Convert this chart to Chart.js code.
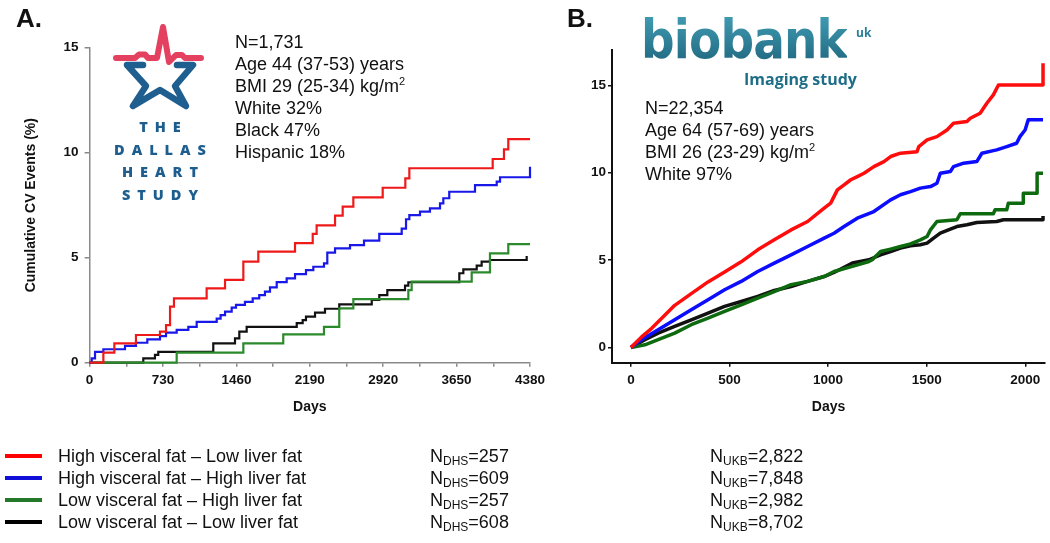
<!DOCTYPE html>
<html><head><meta charset="utf-8">
<script src="https://cdn.jsdelivr.net/npm/chart.js@4.4.1/dist/chart.umd.min.js"></script>
<style>
html,body{margin:0;padding:0;background:#fff;}
body{width:1050px;height:543px;position:relative;overflow:hidden;font-family:"Liberation Sans",Arial,sans-serif;color:#111;}
.abs{position:absolute;}
.panel{font-weight:bold;font-size:26px;line-height:26px;}
.info{font-size:18px;line-height:22px;white-space:nowrap;}
.info sup{font-size:11px;vertical-align:7px;line-height:0;}
.dhs{color:#1d5e8e;font-family:"Open Sans",sans-serif;font-weight:800;font-size:14.5px;letter-spacing:7px;text-align:center;width:140px;line-height:14px;padding-left:7px;box-sizing:border-box;}
.leg{font-size:18px;line-height:22px;white-space:nowrap;}
.sw{position:absolute;left:5px;width:37px;height:4px;}
.leg sub{font-size:12px;vertical-align:-3px;line-height:0;}
</style></head><body>
<canvas id="cA" class="abs" style="left:0;top:0" width="560" height="440"></canvas>
<canvas id="cB" class="abs" style="left:560px;top:0" width="490" height="440"></canvas>

<div class="abs panel" style="left:16px;top:5px">A.</div>
<div class="abs panel" style="left:567px;top:5px">B.</div>

<svg class="abs" style="left:0;top:0" width="1050" height="543">
  <path d="M143 65 L127 65 L146 86 L133 106 L160 90 L186 106 L175 86 L193 65 L177 65" fill="none" stroke="#1f5f8f" stroke-width="6.5" stroke-linejoin="round" stroke-linecap="round"/>
  <path d="M116 58 L135 58 L139 54.5 L145 54.5 L148 58 L157 58 L163 27 L169 62 L173 58 L176 55 L182 55 L185 58 L201 58" fill="none" stroke="#e4405f" stroke-width="6" stroke-linejoin="round" stroke-linecap="round"/>
</svg>
<div class="abs dhs" style="left:90px;top:120px">THE</div>
<div class="abs dhs" style="left:90px;top:143px">DALLAS</div>
<div class="abs dhs" style="left:90px;top:165px">HEART</div>
<div class="abs dhs" style="left:90px;top:188px">STUDY</div>

<div class="abs" style="left:641px;top:8px;font-family:'DejaVu Sans',sans-serif;font-weight:bold;font-size:54px;line-height:64px;transform:scaleX(0.87);transform-origin:0 0;background:linear-gradient(#45a3ba,#1b6078);-webkit-background-clip:text;background-clip:text;color:transparent;letter-spacing:-1px;">biobank</div>
<div class="abs" style="left:856px;top:24px;font-family:'Open Sans',sans-serif;font-weight:bold;font-size:12px;color:#2a7f98;">uk</div>
<div class="abs" style="left:744px;top:68px;font-family:'Open Sans',sans-serif;font-weight:bold;font-size:16px;color:#1f6e87;white-space:nowrap;">Imaging study</div>

<div class="abs info" style="left:235px;top:31px">N=1,731<br>Age 44 (37-53) years<br>BMI 29 (25-34) kg/m<sup>2</sup><br>White 32%<br>Black 47%<br>Hispanic 18%</div>
<div class="abs info" style="left:645px;top:97px">N=22,354<br>Age 64 (57-69) years<br>BMI 26 (23-29) kg/m<sup>2</sup><br>White 97%</div>

<div id="legend"></div>

<script>
// ---------- labels ----------
const seriesNames = ["High visceral fat \u2013 Low liver fat","High visceral fat \u2013 High liver fat","Low visceral fat \u2013 High liver fat","Low visceral fat \u2013 Low liver fat"];
const nDHS = ["257","609","257","608"];
const nUKB = ["2,822","7,848","2,982","8,702"];
const dhsTicksX = [0,730,1460,2190,2920,3650,4380];
const dhsMinorX = [0,365,730,1095,1460,1825,2190,2555,2920,3285,3650,4015,4380];
const ukbTicksX = [0,500,1000,1500,2000];
const yTicks = [0,5,10,15];

// ---------- Panel A: Dallas Heart Study (days, cumulative %) ----------
const dhsRedDays = [0,137,246,461,700,760,800,839,1164,1347,1529,1678,2043,2219,2258,2441,2517,2623,2915,3140,3180,4009,4121,4164,4380];
const dhsRedPct  = [0,0.48,0.92,1.32,1.48,1.79,2.67,3.06,3.54,3.94,4.81,5.29,5.69,6.13,6.54,7.0,7.43,7.87,8.33,8.78,9.26,9.70,10.16,10.65,10.65];
const dhsBlueDays = [0,21,54,137,352,461,574,700,760,866,982,1065,1264,1303,1347,1413,1456,1545,1622,1687,1744,1794,1861,1960,2043,2152,2225,2331,2364,2441,2590,2729,2881,3104,3147,3180,3286,3385,3485,3518,3577,3833,4049,4082,4380,4380];
const dhsBluePct  = [0,0.21,0.52,0.64,0.80,0.95,1.11,1.27,1.43,1.56,1.71,1.94,2.10,2.27,2.43,2.62,2.75,2.90,3.06,3.22,3.38,3.59,3.84,4.02,4.22,4.41,4.57,4.73,5.24,5.44,5.60,5.81,6.13,6.38,6.83,7.03,7.19,7.35,7.59,7.83,8.14,8.46,8.62,8.83,8.83,9.33];
const dhsGreenDays = [0,866,1529,1926,2331,2483,2623,3170,3203,3800,3982,4164,4380];
const dhsGreenPct  = [0,0.48,0.92,1.35,1.71,2.59,3.03,3.46,3.86,4.30,5.21,5.65,5.65];
const dhsBlackDays = [0,534,650,683,1230,1446,1489,1562,2060,2119,2152,2242,2341,2483,2806,2881,2961,3137,3170,3677,3717,3850,3899,3982,4347,4347];
const dhsBlackPct  = [0,0.21,0.37,0.52,0.92,1.16,1.48,1.71,1.88,2.03,2.19,2.38,2.57,2.78,2.99,3.22,3.46,3.67,3.83,4.26,4.44,4.62,4.81,4.89,4.89,5.08];

// ---------- Panel B: UK Biobank imaging (days, cumulative %) ----------
const ukbRedDays = [0,54,104,155,222,306,391,475,559,643,727,812,896,980,1013,1047,1081,1115,1148,1182,1232,1283,1317,1367,1451,1460,1502,1552,1603,1636,1704,1721,1771,1805,1838,1864,2090,2090];
const ukbRedPct  = [0,0.60,1.08,1.65,2.41,3.08,3.75,4.32,4.90,5.59,6.16,6.73,7.21,7.97,8.26,9.02,9.31,9.60,9.78,9.97,10.35,10.64,10.93,11.12,11.21,11.50,11.88,12.07,12.45,12.84,12.93,13.12,13.41,13.98,14.46,15.03,15.03,16.27];
const ukbBlueDays = [0,54,138,222,306,391,475,559,643,727,812,896,980,1030,1081,1148,1232,1317,1367,1418,1468,1519,1552,1569,1620,1636,1687,1754,1780,1855,1906,1956,1973,1999,2015,2090];
const ukbBluePct  = [0,0.44,1.01,1.58,2.16,2.73,3.30,3.78,4.35,4.83,5.30,5.78,6.26,6.54,6.92,7.40,7.78,8.45,8.74,8.92,9.12,9.21,9.40,9.97,10.07,10.35,10.55,10.64,11.12,11.31,11.50,11.69,12.07,12.45,13.03,13.03];
const ukbGreenDays = [0,71,138,222,306,391,475,559,643,727,812,896,980,1030,1123,1207,1224,1266,1317,1367,1418,1468,1502,1519,1552,1653,1670,1838,1847,1906,1914,1990,1990,2060,2060,2090];
const ukbGreenPct  = [0,0.15,0.44,0.82,1.30,1.68,2.06,2.44,2.82,3.20,3.59,3.78,4.06,4.35,4.64,4.92,5.02,5.49,5.63,5.78,5.93,6.16,6.35,6.73,7.21,7.31,7.65,7.65,7.88,7.88,8.26,8.26,8.83,8.83,9.97,9.97];
const ukbBlackDays = [0,71,138,222,306,391,475,559,643,727,812,896,980,1030,1123,1207,1266,1317,1367,1418,1468,1502,1535,1569,1620,1653,1704,1754,1855,1889,2090,2090];
const ukbBlackPct  = [0,0.44,0.82,1.20,1.58,1.97,2.35,2.63,2.92,3.26,3.49,3.78,4.06,4.29,4.83,5.02,5.30,5.49,5.69,5.82,5.88,5.97,6.26,6.54,6.77,6.92,7.02,7.15,7.21,7.31,7.31,7.53];

const colorsA = ["#ee1a1a","#1818e8","#2b8a2b","#111111"];
const colorsB = ["#ff0c0c","#0c0cff","#0e6a0e","#111111"];
const legendColors = ["#ff0000","#1010d8","#23782a","#000000"];

const FONT = "'Liberation Sans', Arial, sans-serif";
const tickFont = {family: FONT, size: 13.5, weight: 'bold'};
const titleFont = {family: FONT, size: 14, weight: 'bold'};
function pts(d, v){ return d.map((x,i)=>({x:x, y:v[i]})); }

const dhsSeries = [pts(dhsRedDays,dhsRedPct), pts(dhsBlueDays,dhsBluePct), pts(dhsGreenDays,dhsGreenPct), pts(dhsBlackDays,dhsBlackPct)];
const ukbSeries = [pts(ukbRedDays,ukbRedPct), pts(ukbBlueDays,ukbBluePct), pts(ukbGreenDays,ukbGreenPct), pts(ukbBlackDays,ukbBlackPct)];

new Chart(document.getElementById('cA'), {
  type: 'line',
  data: { datasets: seriesNames.map((n,i)=>({label:n, data:dhsSeries[i], borderColor:colorsA[i], backgroundColor:colorsA[i], borderWidth:2.2, pointRadius:0, stepped:'before', fill:false, clip:8, borderJoinStyle:'miter'})) },
  options: {
    responsive:false, animation:false, devicePixelRatio:1,
    layout:{padding:{left:19, top:47.7, right:30, bottom:10}},
    plugins:{legend:{display:false}, tooltip:{enabled:false}},
    scales:{
      x:{type:'linear', min:0, max:4380,
        afterBuildTicks:s=>{ s.ticks = dhsMinorX.map(v=>({value:v})); },
        afterFit:s=>{ s.height = 67.3; },
        ticks:{autoSkip:false, maxRotation:0, font:tickFont, color:'#111', padding:5,
          callback:v=> dhsTicksX.includes(v) ? String(v) : ''},
        grid:{drawOnChartArea:false, tickLength:4, color:'#8a8a8a', lineWidth:1.5},
        border:{color:'#8a8a8a', width:1.5},
        title:{display:true, text:'Days', font:titleFont, color:'#111', padding:{top:0,bottom:14}}
      },
      y:{type:'linear', min:0, max:15,
        afterBuildTicks:s=>{ s.ticks = yTicks.map(v=>({value:v})); },
        afterFit:s=>{ s.width = 70.6; },
        ticks:{font:tickFont, color:'#111', padding:6},
        grid:{drawOnChartArea:false, tickLength:5, color:'#8a8a8a', lineWidth:1.5},
        border:{color:'#8a8a8a', width:1.5},
        title:{display:true, text:'Cumulative CV Events (%)', font:titleFont, color:'#111', padding:{top:4,bottom:0}}
      }
    }
  }
});

new Chart(document.getElementById('cB'), {
  type: 'line',
  data: { datasets: seriesNames.map((n,i)=>({label:n, data:ukbSeries[i], borderColor:colorsB[i], backgroundColor:colorsB[i], borderWidth:3.5, pointRadius:0, fill:false, clip:8, borderJoinStyle:'round', tension:0})) },
  options: {
    responsive:false, animation:false, devicePixelRatio:1,
    layout:{padding:{left:0, top:50, right:5, bottom:10}},
    plugins:{legend:{display:false}, tooltip:{enabled:false}},
    scales:{
      x:{type:'linear', min:-96, max:2100,
        afterBuildTicks:s=>{ s.ticks = ukbTicksX.map(v=>({value:v})); },
        afterFit:s=>{ s.height = 67.3; },
        ticks:{autoSkip:false, maxRotation:0, font:tickFont, color:'#111', padding:5, callback:v=>String(v)},
        grid:{drawOnChartArea:false, tickLength:4, color:'#111', lineWidth:1.5},
        border:{color:'#111', width:2},
        title:{display:true, text:'Days', font:titleFont, color:'#111', padding:{top:0,bottom:14}}
      },
      y:{type:'linear', min:-0.875, max:17.03,
        afterBuildTicks:s=>{ s.ticks = yTicks.map(v=>({value:v})); },
        afterFit:s=>{ s.width = 52; },
        ticks:{font:tickFont, color:'#111', padding:2, callback:v=>String(v)},
        grid:{drawOnChartArea:false, tickLength:4, color:'#111', lineWidth:1.5},
        border:{color:'#111', width:2}
      }
    }
  }
});

// ---------- legend ----------
const legendRowsY = [456, 478, 500, 521.5];
const leg = document.getElementById('legend');
seriesNames.forEach((n,i)=>{
  const cy = legendRowsY[i];
  leg.insertAdjacentHTML('beforeend',
    `<div class="sw" style="top:${cy-2}px;background:${legendColors[i]}"></div>` +
    `<div class="abs leg" style="left:58px;top:${cy-11}px">${n}</div>` +
    `<div class="abs leg" style="left:430px;top:${cy-11}px">N<sub>DHS</sub>=${nDHS[i]}</div>` +
    `<div class="abs leg" style="left:710px;top:${cy-11}px">N<sub>UKB</sub>=${nUKB[i]}</div>`);
});
</script>
</body></html>
